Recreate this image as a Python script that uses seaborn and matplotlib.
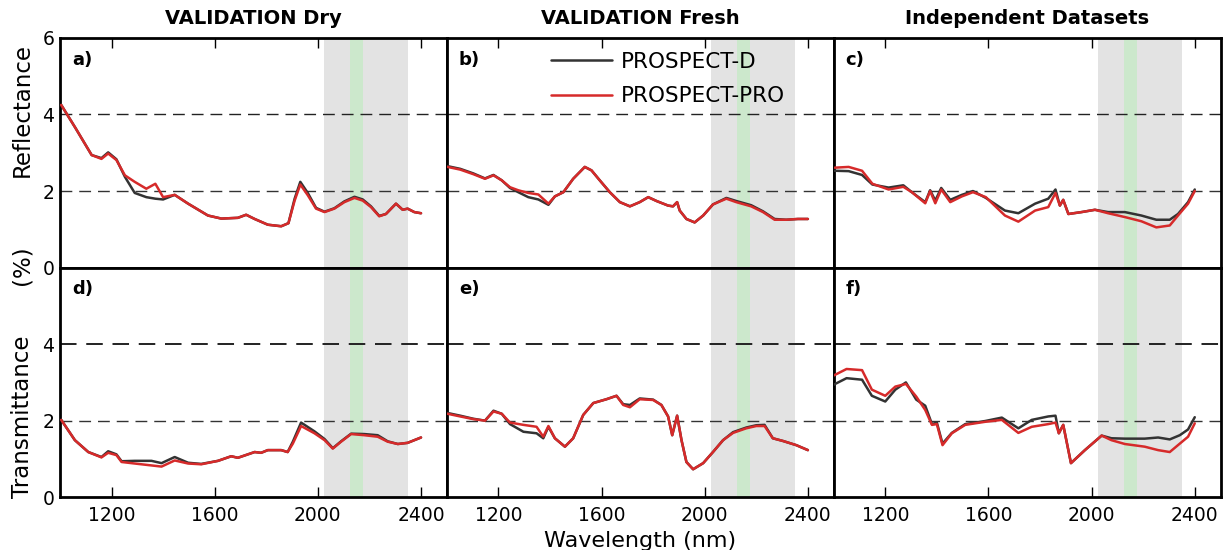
import pandas as pd
import matplotlib
matplotlib.use("Agg")
import matplotlib.pyplot as plt
import seaborn as sns

# =============================
# Data
# =============================
# a) VALIDATION Dry - reflectance
wl_a = [1005, 1060, 1123, 1161, 1187, 1219, 1252, 1290, 1335, 1370, 1400, 1445, 1497,
        1574, 1626, 1690, 1722, 1755, 1806, 1858, 1886, 1910, 1932, 1961, 1993, 2026,
        2064, 2103, 2142, 2174, 2206, 2238, 2264, 2303, 2329, 2348, 2374, 2400]
red_a = [4.25, 3.65, 2.94, 2.84, 2.98, 2.81, 2.41, 2.24, 2.06, 2.19, 1.84, 1.90, 1.67,
         1.36, 1.28, 1.30, 1.38, 1.27, 1.12, 1.08, 1.16, 1.75, 2.17, 1.89, 1.54, 1.45,
         1.54, 1.71, 1.82, 1.75, 1.58, 1.34, 1.40, 1.67, 1.51, 1.54, 1.45, 1.42]
black_a = [4.25, 3.65, 2.94, 2.86, 3.01, 2.83, 2.37, 1.95, 1.84, 1.80, 1.78, 1.90, 1.67,
           1.36, 1.28, 1.30, 1.38, 1.27, 1.12, 1.08, 1.16, 1.80, 2.24, 1.95, 1.56, 1.46,
           1.55, 1.73, 1.85, 1.78, 1.60, 1.35, 1.40, 1.67, 1.51, 1.54, 1.45, 1.42]

# b) VALIDATION Fresh - reflectance
wl_b = [1003, 1052, 1103, 1148, 1181, 1213, 1245, 1277, 1316, 1355, 1394, 1419, 1452,
        1490, 1535, 1561, 1593, 1632, 1671, 1710, 1748, 1781, 1813, 1858, 1877, 1893,
        1903, 1929, 1961, 1994, 2032, 2084, 2122, 2180, 2226, 2271, 2316, 2361, 2400]
red_b = [2.63, 2.56, 2.44, 2.32, 2.41, 2.28, 2.10, 2.02, 1.95, 1.91, 1.67, 1.86, 1.97,
         2.32, 2.63, 2.54, 2.28, 1.97, 1.71, 1.60, 1.71, 1.84, 1.74, 1.62, 1.60, 1.71,
         1.49, 1.27, 1.18, 1.36, 1.65, 1.80, 1.71, 1.60, 1.45, 1.25, 1.25, 1.27, 1.27]
black_b = [2.65, 2.58, 2.46, 2.33, 2.42, 2.28, 2.08, 1.97, 1.84, 1.78, 1.64, 1.86, 1.97,
           2.32, 2.63, 2.54, 2.28, 1.97, 1.71, 1.60, 1.71, 1.84, 1.74, 1.62, 1.60, 1.71,
           1.49, 1.27, 1.18, 1.36, 1.65, 1.82, 1.74, 1.63, 1.47, 1.27, 1.25, 1.27, 1.27]

# c) Independent Datasets - reflectance
wl_c = [1004, 1058, 1110, 1150, 1213, 1270, 1303, 1355, 1374, 1394, 1417, 1452, 1497,
        1540, 1590, 1664, 1716, 1781, 1832, 1860, 1877, 1890, 1910, 1961, 2013, 2064,
        2129, 2193, 2251, 2303, 2335, 2374, 2400]
red_c = [2.61, 2.63, 2.53, 2.19, 2.04, 2.11, 1.97, 1.68, 2.00, 1.68, 2.04, 1.71, 1.86,
         1.97, 1.84, 1.36, 1.20, 1.49, 1.58, 1.95, 1.62, 1.77, 1.40, 1.45, 1.51, 1.42,
         1.32, 1.21, 1.05, 1.10, 1.36, 1.67, 2.00]
black_c = [2.53, 2.52, 2.42, 2.17, 2.09, 2.15, 1.97, 1.71, 2.02, 1.75, 2.08, 1.77, 1.90,
           2.00, 1.82, 1.49, 1.42, 1.67, 1.80, 2.04, 1.62, 1.77, 1.40, 1.45, 1.51, 1.45,
           1.45, 1.36, 1.25, 1.25, 1.40, 1.71, 2.04]

# d) VALIDATION Dry - transmittance
wl_d = [1005, 1058, 1110, 1161, 1187, 1219, 1239, 1290, 1355, 1394, 1445, 1497, 1548,
        1613, 1664, 1690, 1755, 1780, 1806, 1858, 1883, 1903, 1935, 1987, 2026, 2058,
        2090, 2129, 2180, 2232, 2271, 2310, 2348, 2400]
red_d = [2.02, 1.49, 1.18, 1.04, 1.16, 1.10, 0.92, 0.88, 0.83, 0.80, 0.96, 0.88, 0.86,
         0.95, 1.07, 1.03, 1.18, 1.16, 1.23, 1.23, 1.18, 1.40, 1.86, 1.67, 1.49, 1.27,
         1.45, 1.65, 1.62, 1.58, 1.45, 1.39, 1.42, 1.56]
black_d = [2.02, 1.49, 1.18, 1.05, 1.20, 1.12, 0.94, 0.95, 0.95, 0.89, 1.05, 0.90, 0.87,
           0.95, 1.07, 1.03, 1.18, 1.16, 1.23, 1.23, 1.18, 1.45, 1.95, 1.72, 1.52, 1.28,
           1.46, 1.66, 1.65, 1.62, 1.46, 1.39, 1.42, 1.56]

# e) VALIDATION Fresh - transmittance
wl_e = [1003, 1052, 1103, 1148, 1181, 1213, 1245, 1297, 1348, 1374, 1394, 1419, 1458,
        1490, 1529, 1568, 1619, 1658, 1684, 1710, 1748, 1800, 1832, 1858, 1874, 1893,
        1910, 1929, 1955, 1994, 2032, 2071, 2110, 2161, 2200, 2232, 2264, 2303, 2355, 2400]
red_e = [2.18, 2.11, 2.04, 2.00, 2.24, 2.18, 1.95, 1.89, 1.84, 1.58, 1.86, 1.54, 1.32,
         1.54, 2.15, 2.46, 2.56, 2.65, 2.41, 2.35, 2.56, 2.54, 2.41, 2.11, 1.62, 2.13,
         1.49, 0.92, 0.73, 0.89, 1.18, 1.49, 1.68, 1.80, 1.86, 1.86, 1.54, 1.47, 1.36, 1.23]
black_e = [2.20, 2.13, 2.05, 2.00, 2.26, 2.18, 1.91, 1.71, 1.67, 1.54, 1.84, 1.54, 1.32,
           1.54, 2.15, 2.46, 2.56, 2.65, 2.43, 2.41, 2.58, 2.55, 2.41, 2.11, 1.62, 2.13,
           1.49, 0.92, 0.73, 0.89, 1.18, 1.49, 1.70, 1.82, 1.88, 1.89, 1.54, 1.47, 1.36, 1.23]

# f) Independent Datasets - transmittance
wl_f = [1000, 1050, 1110, 1148, 1200, 1239, 1280, 1320, 1355, 1381, 1400, 1422, 1458,
        1510, 1587, 1652, 1716, 1768, 1832, 1860, 1873, 1890, 1920, 1974, 2039, 2077,
        2129, 2206, 2258, 2303, 2342, 2374, 2400]
red_f = [3.18, 3.35, 3.32, 2.81, 2.65, 2.89, 2.96, 2.63, 2.28, 1.89, 1.91, 1.36, 1.67,
         1.89, 1.97, 2.02, 1.68, 1.84, 1.91, 1.95, 1.67, 1.89, 0.89, 1.23, 1.61, 1.49,
         1.39, 1.32, 1.23, 1.18, 1.40, 1.58, 1.93]
black_f = [2.94, 3.11, 3.07, 2.65, 2.50, 2.81, 3.00, 2.55, 2.39, 1.91, 1.95, 1.40, 1.68,
           1.91, 1.99, 2.08, 1.80, 2.02, 2.11, 2.13, 1.67, 1.89, 0.89, 1.23, 1.61, 1.54,
           1.53, 1.53, 1.56, 1.51, 1.62, 1.77, 2.09]

col_titles = ["VALIDATION Dry", "VALIDATION Fresh", "Independent Datasets"]
panel_tags = ["a)", "b)", "c)", "d)", "e)", "f)"]
models = ["PROSPECT-D", "PROSPECT-PRO"]
x_ticks = [1200, 1600, 2000, 2400]

panels = [
    (wl_a, black_a, red_a), (wl_b, black_b, red_b), (wl_c, black_c, red_c),
    (wl_d, black_d, red_d), (wl_e, black_e, red_e), (wl_f, black_f, red_f),
]

# =============================
# Style
# =============================
sns.set_style("ticks")
plt.rcParams["font.family"] = ["DejaVu Sans"]
plt.rcParams["text.color"] = "black"
plt.rcParams["xtick.color"] = "black"
plt.rcParams["ytick.color"] = "black"
plt.rcParams["axes.labelcolor"] = "black"
palette = {"PROSPECT-D": "#333333", "PROSPECT-PRO": "#d62a2a"}

fig, axes = plt.subplots(2, 3, figsize=(12.23, 5.5), dpi=100)
fig.subplots_adjust(left=0.049, right=0.998, top=0.931, bottom=0.096,
                    wspace=0, hspace=0)

for i, (wl, blk, red) in enumerate(panels):
    ax = axes.flat[i]
    row, col = divmod(i, 3)

    df = pd.DataFrame({
        "Wavelength": wl + wl,
        "Value": blk + red,
        "Model": [models[0]] * len(wl) + [models[1]] * len(wl),
    })

    # spectral regions
    ax.axvspan(2025, 2350, color="#e3e3e3", lw=0, zorder=0)
    ax.axvspan(2125, 2175, color="#cce8cc", lw=0, zorder=0.5)

    ax.axhline(2, color="#333333", lw=1.0, dashes=(8.5, 5), zorder=1)
    ax.axhline(4, color="#222222", lw=1.0 if row == 0 else 1.4, dashes=(8.5, 5), zorder=1)

    sns.lineplot(data=df, x="Wavelength", y="Value", hue="Model",
                 palette=palette, estimator=None, sort=False,
                 lw=1.8, legend=(i == 1), ax=ax, zorder=3)

    ax.set_xlim(1000, 2500)
    ax.set_ylim(0, 6)
    ax.set_xlabel("")
    ax.set_ylabel("")
    ax.set_xticks(x_ticks)
    ax.set_yticks([0, 2, 4, 6])

    if row == 0:
        ax.tick_params(axis="x", direction="in", top=True, bottom=False,
                       labelbottom=False, length=7, width=1)
    else:
        ax.tick_params(axis="x", direction="in", top=False, bottom=True,
                       labelbottom=True, length=7, width=1, labelsize=13.5, pad=6)

    ax.tick_params(axis="y", length=0, labelsize=13.5, pad=4, labelleft=(col == 0))
    if col == 0 and row == 1:
        ax.set_yticklabels(["0", "2", "4", ""])

    for sp in ax.spines.values():
        sp.set_linewidth(2)
        sp.set_color("black")

    ax.text(0.031, 0.905, panel_tags[i], transform=ax.transAxes,
            fontsize=13, fontweight="bold", va="center", ha="left")

    if i == 1:
        handles, labels = ax.get_legend_handles_labels()
        leg = ax.legend(handles, labels, loc="upper left", bbox_to_anchor=(0.27, 0.94),
                        frameon=False, fontsize=15.5, handlelength=2.8,
                        handletextpad=0.45, labelspacing=0.68, borderpad=0,
                        borderaxespad=0)
        for h in leg.get_lines():
            h.set_linewidth(1.8)

# column titles
for col, title in enumerate(col_titles):
    pos = axes[0, col].get_position()
    fig.text((pos.x0 + pos.x1) / 2, 0.967, title, ha="center", va="center",
             fontsize=14, fontweight="bold")

# axis labels
fig.text(0.018, 1 - 110 / 550, "Reflectance", rotation=90, ha="center", va="center",
         fontsize=16.5)
fig.text(0.018, 1 - 265 / 550, "(%)", rotation=90, ha="center", va="center",
         fontsize=16.5)
fig.text(0.018, 1 - 417 / 550, "Transmittance", rotation=90, ha="center", va="center",
         fontsize=16.5)
fig.text(0.523, 0.016, "Wavelength (nm)", ha="center", va="center", fontsize=16)

plt.savefig("out.png", dpi=100)
